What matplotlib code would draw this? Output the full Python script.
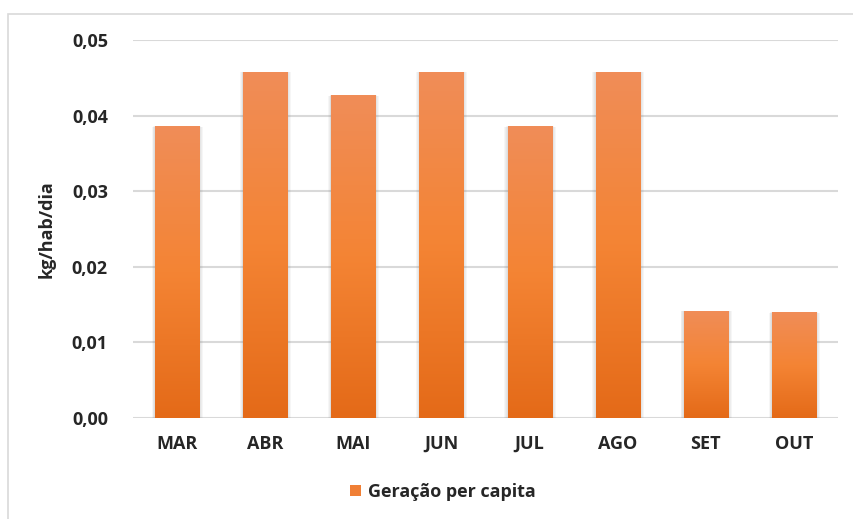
import matplotlib.pyplot as plt
import numpy as np
from matplotlib.colors import LinearSegmentedColormap
from matplotlib.patches import Rectangle, Patch

months = ['MAR', 'ABR', 'MAI', 'JUN', 'JUL', 'AGO', 'SET', 'OUT']
per_capita = [0.0386, 0.0458, 0.0427, 0.0458, 0.0386, 0.0458, 0.0142, 0.0140]
y_ticks = [0.00, 0.01, 0.02, 0.03, 0.04, 0.05]

plt.rcParams['font.family'] = ['Open Sans', 'DejaVu Sans']

fig = plt.figure(figsize=(8.54, 5.19), dpi=100)
ax = fig.add_axes([133 / 854, 1 - 418 / 519, 705 / 854, 378 / 519])

# light outer frame of the chart area
fig.patches.append(Rectangle((8 / 854, -0.01), 0.995, 1 - 14 / 519 + 0.01,
                             transform=fig.transFigure, fill=False,
                             edgecolor='#d9d9d9', lw=1.2))

grad = LinearSegmentedColormap.from_list('bar', ['#e46a18', '#f48434', '#f08d58'])
x = np.arange(len(months))
width = 0.5
px = 1 / 88.0  # one pixel in data units along x
bars = ax.bar(x, per_capita, width=width, color='none', zorder=3)
for b in bars:
    x0, y0 = b.get_x(), b.get_y()
    w, h = b.get_width(), b.get_height()
    # soft shadow around each bar
    for k in (1, 2, 3, 4):
        ax.add_patch(Rectangle((x0 - k * px * 0.8, y0), w + k * px * 1.8,
                               h - 0.00002 * k, facecolor='#808080',
                               alpha=0.07, lw=0, zorder=2))
    img = ax.imshow(np.linspace(0, 1, 256).reshape(-1, 1), cmap=grad,
                    extent=[x0, x0 + w, y0, y0 + h], origin='lower',
                    aspect='auto', zorder=3)
    img.set_clip_path(b)

ax.set_xlim(-0.5, len(months) - 0.5)
ax.set_ylim(0, 0.05)
ax.set_yticks(y_ticks)
ax.set_yticklabels([f'{v:.2f}'.replace('.', ',') for v in y_ticks],
                   fontsize=13, fontweight='bold', color='#262626')
ax.set_xticks(x)
ax.set_xticklabels(months, fontsize=13, fontweight='bold', color='#262626')
ax.tick_params(length=0, pad=18)
ax.tick_params(axis='x', pad=12)
ax.grid(axis='y', color='#d9d9d9', lw=1.5, zorder=0)
for s in ax.spines.values():
    s.set_visible(False)
ax.set_ylabel('kg/hab/dia', fontsize=13, fontweight='bold', color='#262626',
              labelpad=12)

fig.legend(handles=[Patch(facecolor='#f07f35', label='Geração per capita')],
           loc='center', bbox_to_anchor=(443 / 854, 1 - 492 / 519),
           frameon=False, prop={'size': 13, 'weight': 'bold'},
           handlelength=0.6, handleheight=0.6, handletextpad=0.4,
           labelcolor='#262626')

fig.savefig('out.png', dpi=100, facecolor='white')
